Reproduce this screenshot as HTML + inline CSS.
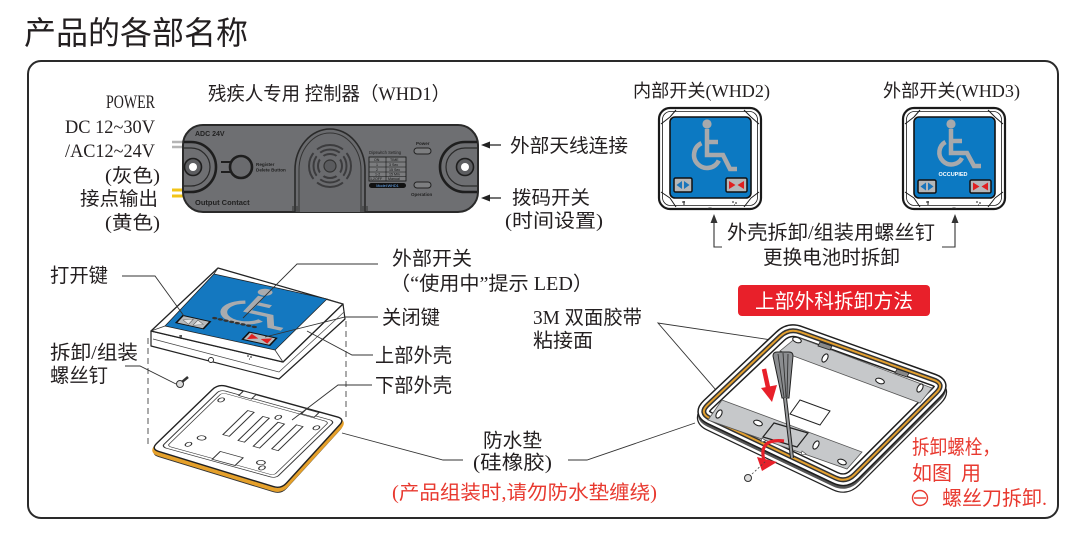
<!DOCTYPE html>
<html><head><meta charset="utf-8"><style>
html,body{margin:0;padding:0;background:#fff;}
svg{display:block;}
.t{font-family:"Liberation Serif","Noto Sans CJK SC",sans-serif;fill:#231f20;}
.s{font-family:"Liberation Sans",sans-serif;}
.r{fill:#e8392f;}
</style></head><body>
<svg width="1084" height="549" viewBox="0 0 1084 549" xmlns="http://www.w3.org/2000/svg">
<rect width="1084" height="549" fill="#fff"/>
<!-- Title -->
<text x="24" y="44" font-size="32" class="t" textLength="224" lengthAdjust="spacingAndGlyphs" style="font-family:'Noto Sans CJK SC',sans-serif">产品的各部名称</text>
<!-- Frame -->
<rect x="28" y="61" width="1030" height="457" rx="13" fill="none" stroke="#2a2a2a" stroke-width="2"/>

<!-- Left power labels -->
<g class="t" font-size="19">
<text x="106" y="108" textLength="49" lengthAdjust="spacingAndGlyphs">POWER</text>
<text x="65" y="133" textLength="90" lengthAdjust="spacingAndGlyphs">DC 12~30V</text>
<text x="65" y="157" textLength="90" lengthAdjust="spacingAndGlyphs">/AC12~24V</text>
<text x="105" y="182" textLength="55" lengthAdjust="spacingAndGlyphs">(灰色)</text>
<text x="80" y="205" textLength="78" lengthAdjust="spacingAndGlyphs">接点输出</text>
<text x="105" y="229" textLength="55" lengthAdjust="spacingAndGlyphs">(黄色)</text>
<text x="208" y="100" textLength="242" lengthAdjust="spacingAndGlyphs">残疾人专用 控制器（WHD1）</text>
<text x="510" y="152" textLength="118" lengthAdjust="spacingAndGlyphs">外部天线连接</text>
<text x="512" y="204" textLength="78" lengthAdjust="spacingAndGlyphs">拨码开关</text>
<text x="505" y="227" textLength="98" lengthAdjust="spacingAndGlyphs">(时间设置)</text>
</g>

<!-- Controller -->
<g>
<path d="M172,142 H186 M172,147 H186" stroke="#b4b4b4" stroke-width="2.6"/>
<path d="M172,190 H186 M172,196 H186" stroke="#f2c418" stroke-width="3"/>
<rect x="183" y="125" width="295" height="87" rx="20" fill="#6e6f72" stroke="#2a2a2a" stroke-width="2"/>
<path d="M184,142 H191 A25,25 0 0 1 191,192 H184" fill="none" stroke="#1e1e1e" stroke-width="2.6"/>
<path d="M184,148 H191 A19,19 0 0 1 191,186 H184" fill="none" stroke="#2a2a2a" stroke-width="1.2"/>
<circle cx="193" cy="167" r="8.5" fill="#5d5e61" stroke="#1e1e1e" stroke-width="1.6"/>
<circle cx="193" cy="167" r="4" fill="#fff"/>
<path d="M477,142 H465 A25,25 0 0 0 465,192 H477" fill="none" stroke="#1e1e1e" stroke-width="2.6"/>
<path d="M477,148 H465 A19,19 0 0 0 465,186 H477" fill="none" stroke="#2a2a2a" stroke-width="1.2"/>
<circle cx="465" cy="167" r="8.5" fill="#5d5e61" stroke="#1e1e1e" stroke-width="1.6"/>
<circle cx="465" cy="167" r="4" fill="#fff"/>
<text x="195" y="136" font-size="7" font-weight="bold" class="s" fill="#222">ADC 24V</text>
<text x="195" y="205" font-size="7.5" font-weight="bold" class="s" fill="#222">Output Contact</text>
<circle cx="241" cy="167" r="11" fill="#6a6b6e" stroke="#1e1e1e" stroke-width="2.6"/>
<path d="M221,162 H231 M221,172 H231" stroke="#1e1e1e" stroke-width="2"/>
<text x="256" y="166" font-size="4.6" font-weight="bold" class="s" fill="#222">Register</text>
<text x="256" y="171.5" font-size="4.6" font-weight="bold" class="s" fill="#222">Delete Button</text>
<path d="M295,212 V170 A35,41 0 0 1 365,170 V212" fill="#6a6b6e" stroke="#2a2a2a" stroke-width="1.6"/>
<path d="M299,212 V170 A31,37 0 0 1 361,170 V212" fill="none" stroke="#333" stroke-width="1"/>
<path d="M293,206 V212 M297,206 V212 M363,206 V212 M367,206 V212" stroke="#333" stroke-width="1"/>
<circle cx="330" cy="166" r="21" fill="none" stroke="#3c3c3e" stroke-width="2"/>
<circle cx="330" cy="166" r="16.5" fill="none" stroke="#3c3c3e" stroke-width="2"/>
<circle cx="330" cy="166" r="12" fill="none" stroke="#3c3c3e" stroke-width="2"/>
<path d="M312,148 L348,184 M348,148 L312,184" stroke="#6a6b6e" stroke-width="5"/>
<circle cx="330" cy="166" r="6" fill="#5a5b5e" stroke="#333" stroke-width="1.2"/>
<text x="369" y="154" font-size="4.2" class="s" fill="#222">Dipswitch Setting</text>
<rect x="369" y="157" width="37" height="24" fill="#7b7c7e" stroke="#111" stroke-width="0.8"/>
<path d="M369,162 H406 M369,167 H406 M369,172 H406 M369,176.5 H406 M386,157 V181" stroke="#111" stroke-width="0.6"/>
<g class="s" font-size="3.6" fill="#111">
<text x="374" y="161">ON</text><text x="390" y="161">TIME</text>
<text x="376" y="166">1</text><text x="389" y="166">3 Sec</text>
<text x="376" y="171">2</text><text x="389" y="171">15 Sec</text>
<text x="375" y="175.5">1-2</text><text x="389" y="175.5">15 Min</text>
<text x="370" y="180">1,2OFF</text><text x="388" y="180">Manual</text>
</g>
<rect x="369" y="183" width="37" height="5" rx="2.5" fill="#111"/>
<text x="387.5" y="187" font-size="3.8" class="s" fill="#6ab0ff" text-anchor="middle">Model:WHD1</text>
<text x="416" y="145" font-size="4.5" font-weight="bold" class="s" fill="#222">Power</text>
<rect x="414" y="148" width="17" height="6" rx="3" fill="#7d7e80" stroke="#222" stroke-width="1"/>
<rect x="414" y="182" width="17" height="6" rx="3" fill="#7d7e80" stroke="#222" stroke-width="1"/>
<text x="411" y="196" font-size="4.5" font-weight="bold" class="s" fill="#222">Operation</text>
</g>
<!-- controller arrows -->
<path d="M501,145 H488 M501,198 H488" stroke="#222" stroke-width="1.2"/>
<path d="M481,145 L490,141.5 L490,148.5 Z M481,198 L490,194.5 L490,201.5 Z" fill="#222"/>

<!-- WHD2 / WHD3 labels -->
<g class="t" font-size="18">
<text x="633" y="97" textLength="137" lengthAdjust="spacingAndGlyphs">内部开关(WHD2)</text>
<text x="883" y="97" textLength="137" lengthAdjust="spacingAndGlyphs">外部开关(WHD3)</text>
</g>
<g class="t" font-size="19.5">
<text x="727" y="239" textLength="208" lengthAdjust="spacingAndGlyphs">外壳拆卸/组装用螺丝钉</text>
<text x="763" y="264" textLength="137" lengthAdjust="spacingAndGlyphs">更换电池时拆卸</text>
</g>
<path d="M722,247 H714 V221 M942,247 H955 V221" fill="none" stroke="#333" stroke-width="1.1"/>
<path d="M714,214 L710.5,223 L717.5,223 Z M955,214 L951.5,223 L958.5,223 Z" fill="#333"/>

<!-- WHD device template -->
<g transform="translate(658,107)">
<rect x="1" y="1" width="102" height="101" rx="11" fill="#fff" stroke="#1a1a1a" stroke-width="2.2"/>
<rect x="4.5" y="4.5" width="95" height="94" rx="8" fill="none" stroke="#1a1a1a" stroke-width="0.8"/>
<path d="M12,10 L3,17 M12,10 L18,3 M93,10 L101,17 M93,10 L86,3 M12,91 L3,85 M12,91 L18,100 M93,91 L101,85 M93,91 L86,100" stroke="#1a1a1a" stroke-width="1"/>
<rect x="12" y="10" width="81" height="81" rx="5" fill="#0c79c2" stroke="#111" stroke-width="1.6"/>
<g fill="none" stroke="#a7a9ac" stroke-width="4.5">
<path d="M49,22 V48 H65 L72,62 H79"/>
<path d="M49,35 H60"/>
<path d="M43.5,36.2 A13,13 0 1 0 60.8,53.5"/>
</g>
<circle cx="49" cy="17" r="4.6" fill="#a7a9ac"/>
<rect x="16" y="71" width="18" height="14" rx="1.5" fill="#b5b7b9" stroke="#111" stroke-width="1.5"/>
<path d="M18.5,78 L24,74 L24,82 Z M31.5,78 L26,74 L26,82 Z" fill="#1a75bb"/>
<rect x="68" y="71" width="21" height="14" rx="1.5" fill="#b5b7b9" stroke="#111" stroke-width="1.5"/>
<path d="M71,74 L71,82 L77.5,78 Z M86,74 L86,82 L79.5,78 Z" fill="#e02020"/>
<path d="M24,95 h3 M26,94 v4 M74,95 h2 M77,96 h2 M76,98 h1" stroke="#222" stroke-width="1"/>
<path d="M49,102 q3,-2 6,0" fill="#222" stroke="#222" stroke-width="1"/>
</g>
<g transform="translate(902,107)">
<rect x="1" y="1" width="102" height="101" rx="11" fill="#fff" stroke="#1a1a1a" stroke-width="2.2"/>
<rect x="4.5" y="4.5" width="95" height="94" rx="8" fill="none" stroke="#1a1a1a" stroke-width="0.8"/>
<path d="M12,10 L3,17 M12,10 L18,3 M93,10 L101,17 M93,10 L86,3 M12,91 L3,85 M12,91 L18,100 M93,91 L101,85 M93,91 L86,100" stroke="#1a1a1a" stroke-width="1"/>
<rect x="12" y="10" width="81" height="81" rx="5" fill="#0c79c2" stroke="#111" stroke-width="1.6"/>
<g fill="none" stroke="#a7a9ac" stroke-width="4.5">
<path d="M49,22 V46 H65 L72,59 H79"/>
<path d="M49,34 H60"/>
<path d="M43.5,35 A12,12 0 1 0 60,51"/>
</g>
<circle cx="49" cy="17" r="4.6" fill="#a7a9ac"/>
<text x="51" y="69" font-size="5.5" font-weight="bold" class="s" fill="#fff" text-anchor="middle">OCCUPIED</text>
<rect x="16" y="73" width="18" height="13" rx="1.5" fill="#b5b7b9" stroke="#111" stroke-width="1.5"/>
<path d="M18.5,79.5 L24,75.5 L24,83.5 Z M31.5,79.5 L26,75.5 L26,83.5 Z" fill="#1a75bb"/>
<rect x="68" y="73" width="21" height="13" rx="1.5" fill="#b5b7b9" stroke="#111" stroke-width="1.5"/>
<path d="M71,75.5 L71,83.5 L77.5,79.5 Z M86,75.5 L86,83.5 L79.5,79.5 Z" fill="#e02020"/>
<path d="M24,95 h3 M26,94 v4 M74,95 h2 M77,96 h2 M76,98 h1" stroke="#222" stroke-width="1"/>
<path d="M49,102 q3,-2 6,0" fill="#222" stroke="#222" stroke-width="1"/>
</g>

<!-- Exploded view: dashed lines -->
<path d="M148,338 V447 M346,321 V421" stroke="#555" stroke-width="1" stroke-dasharray="6,4"/>

<!-- Lower shell -->
<g>
<path d="M225.7,386.1 L337.3,416.9 Q345,419 339.6,424.9 L286.4,483.1 Q281,489 273.4,486.6 L158.6,451.4 Q151,449 156.7,443.4 L212.3,389.6 Q218,384 225.7,386.1 Z" transform="translate(0,5)" fill="none" stroke="#333" stroke-width="1.2"/>
<path d="M156.7,443.4 Q151,449 158.6,451.4 L273.4,486.6 Q281,489 286.4,483.1 L339.6,424.9 Q345,419 337.3,416.9" transform="translate(0,2.6)" fill="none" stroke="#e5a02a" stroke-width="4"/>
<path d="M225.7,386.1 L337.3,416.9 Q345,419 339.6,424.9 L286.4,483.1 Q281,489 273.4,486.6 L158.6,451.4 Q151,449 156.7,443.4 L212.3,389.6 Q218,384 225.7,386.1 Z" fill="#fff" stroke="#222" stroke-width="1.4"/>
<g transform="matrix(1.27,0.35,-0.67,0.65,218,384)" fill="none" stroke="#333" stroke-width="0.9">
<rect x="5" y="6" width="90" height="88" rx="4"/>
<rect x="8" y="9" width="84" height="82" rx="3" stroke-width="0.6"/>
<rect x="35" y="22" width="5" height="37" fill="#fff"/>
<rect x="48" y="24" width="5" height="37" fill="#fff"/>
<rect x="61" y="26" width="5" height="37" fill="#fff"/>
<rect x="74" y="23" width="5" height="37" fill="#fff"/>
<rect x="20" y="0" width="10" height="7" fill="#fff"/>
<rect x="70" y="1" width="10" height="7" fill="#fff"/>
<rect x="44" y="80" width="18" height="12" fill="#fff"/>
<ellipse cx="12" cy="18" rx="2" ry="3"/>
<ellipse cx="88" cy="20" rx="2" ry="3"/>
<ellipse cx="20" cy="82" rx="2" ry="3"/>
<ellipse cx="80" cy="86" rx="2" ry="3"/>
<circle cx="24" cy="70" r="3"/>
<circle cx="76" cy="80" r="3"/>
<ellipse cx="58" cy="20" rx="2" ry="3"/>
</g>
</g>

<!-- Upper shell -->
<g>
<path d="M151,331 L151,346 L279,379 L345,319 L343,304 L283,362 Z" fill="#fff" stroke="#222" stroke-width="1.2" stroke-linejoin="round"/>
<path d="M153,339 L279,372 L344,312" fill="none" stroke="#444" stroke-width="0.7"/>
<path d="M218,268 L343,304 L283,362 L151,331 Z" fill="#fff" stroke="#222" stroke-width="1.3" stroke-linejoin="round"/>
<path d="M327,299 L343,304 M275,350 L283,362 M165,326 L151,331 M214,274 L218,268" stroke="#333" stroke-width="0.8"/>
<path d="M214,274 L327,299 L275,350 L165,326 Z" fill="#1478c0" stroke="#222" stroke-width="0.8" stroke-linejoin="round"/>
<g transform="matrix(1.13,0.25,-0.49,0.52,214,274)">
<g fill="none" stroke="#a9abae" stroke-width="5.5">
<path d="M50,19 V47 H70 L78,64 H88"/>
<path d="M50,32 H64"/>
<path d="M42.4,33.7 A18,18 0 1 0 66.3,57.6"/>
</g>
<circle cx="50" cy="11" r="6" fill="#a9abae"/>
<g fill="#333"><ellipse cx="31" cy="70" rx="2.2" ry="2"/><ellipse cx="36" cy="70" rx="2.2" ry="2"/><ellipse cx="41" cy="70" rx="2.2" ry="2"/><ellipse cx="46" cy="70" rx="2.2" ry="2"/><ellipse cx="51" cy="70" rx="2.2" ry="2"/><ellipse cx="56" cy="70" rx="2.2" ry="2"/><ellipse cx="61" cy="70" rx="2.2" ry="2"/><ellipse cx="66" cy="70" rx="2.2" ry="2"/></g>
<rect x="6" y="77" width="24" height="14" fill="#b8babc" stroke="#111" stroke-width="1.6"/>
<path d="M9,84 L16,79 L16,89 Z M27,84 L20,79 L20,89 Z" fill="#e8e8e8" stroke="#555" stroke-width="0.6"/>
<rect x="66" y="80" width="24" height="14" fill="#b8babc" stroke="#111" stroke-width="1.6"/>
<path d="M69,82 L69,92 L77,87 Z M87,82 L87,92 L79,87 Z" fill="#e02020"/>
</g>
<path d="M179,336 h3 M181,335 v4 M247,356 h2 M250,357 h2 M249,359 h1" stroke="#222" stroke-width="1"/>
<circle cx="211" cy="360" r="2.5" fill="#fff" stroke="#222" stroke-width="0.9"/>
</g>
<!-- screw -->
<circle cx="180" cy="384" r="3.5" fill="#ddd" stroke="#333" stroke-width="1"/>
<path d="M182,382 L188,377" stroke="#333" stroke-width="2.5"/>

<!-- leader lines bottom-left -->
<g fill="none" stroke="#333" stroke-width="0.9">
<path d="M122,276 H155 L184,316"/>
<path d="M125,366 H140 L176,384"/>
<path d="M378,264 H297 L243,318"/>
<path d="M378,317 H345 L265,337"/>
<path d="M373,355 H352 L307,331"/>
<path d="M372,385 H338 L292,420"/>
<path d="M463,460 H443 L342,433"/>
<path d="M568,460 H587 L695,423"/>
<path d="M785,342 L658,323 L722,397"/>
</g>

<!-- bottom labels -->
<g class="t" font-size="19.5">
<text x="50" y="282" textLength="58" lengthAdjust="spacingAndGlyphs">打开键</text>
<text x="50" y="359" textLength="88" lengthAdjust="spacingAndGlyphs">拆卸/组装</text>
<text x="50" y="382" textLength="58" lengthAdjust="spacingAndGlyphs">螺丝钉</text>
<text x="392" y="265" textLength="80" lengthAdjust="spacingAndGlyphs">外部开关</text>
<text x="390" y="290" textLength="203" lengthAdjust="spacingAndGlyphs">（“使用中”提示 LED）</text>
<text x="382" y="324" textLength="58" lengthAdjust="spacingAndGlyphs">关闭键</text>
<text x="375" y="362" textLength="77" lengthAdjust="spacingAndGlyphs">上部外壳</text>
<text x="375" y="392" textLength="77" lengthAdjust="spacingAndGlyphs">下部外壳</text>
<text x="483" y="447" textLength="59" lengthAdjust="spacingAndGlyphs">防水垫</text>
<text x="473" y="469" textLength="79" lengthAdjust="spacingAndGlyphs">(硅橡胶)</text>
<text x="533" y="324" textLength="109" lengthAdjust="spacingAndGlyphs">3M 双面胶带</text>
<text x="533" y="347" textLength="60" lengthAdjust="spacingAndGlyphs">粘接面</text>
<text x="392" y="499" textLength="265" lengthAdjust="spacingAndGlyphs" class="t r" style="fill:#e8392f">(产品组装时,请勿防水垫缠绕)</text>
</g>

<!-- Red banner -->
<rect x="738" y="285" width="192" height="31" rx="4" fill="#e8202a"/>
<text x="755" y="308" font-size="20" textLength="158" lengthAdjust="spacingAndGlyphs" class="t" style="fill:#fff">上部外科拆卸方法</text>

<!-- Right figure -->
<g>
<path d="M800.3,332.1 L933.7,379.9 Q945,384 936.5,392.5 L854.5,474.5 Q846,483 835.2,477.8 L709.8,418.2 Q699,413 707.7,404.8 L780.3,336.2 Q789,328 800.3,332.1 Z" transform="translate(0,6)" fill="none" stroke="#222" stroke-width="14"/>
<path d="M800.3,332.1 L933.7,379.9 Q945,384 936.5,392.5 L854.5,474.5 Q846,483 835.2,477.8 L709.8,418.2 Q699,413 707.7,404.8 L780.3,336.2 Q789,328 800.3,332.1 Z" transform="translate(0,6)" fill="none" stroke="#fff" stroke-width="11.5"/>
<path d="M800.3,332.1 L933.7,379.9 Q945,384 936.5,392.5 L854.5,474.5 Q846,483 835.2,477.8 L709.8,418.2 Q699,413 707.7,404.8 L780.3,336.2 Q789,328 800.3,332.1 Z" transform="translate(0,3)" fill="none" stroke="#555" stroke-width="12"/>
<path d="M800.3,332.1 L933.7,379.9 Q945,384 936.5,392.5 L854.5,474.5 Q846,483 835.2,477.8 L709.8,418.2 Q699,413 707.7,404.8 L780.3,336.2 Q789,328 800.3,332.1 Z" fill="#fff" stroke="#1e1e1e" stroke-width="13"/>
<path d="M800.3,332.1 L933.7,379.9 Q945,384 936.5,392.5 L854.5,474.5 Q846,483 835.2,477.8 L709.8,418.2 Q699,413 707.7,404.8 L780.3,336.2 Q789,328 800.3,332.1 Z" fill="none" stroke="#fff" stroke-width="10"/>
<path d="M800.3,332.1 L933.7,379.9 Q945,384 936.5,392.5 L854.5,474.5 Q846,483 835.2,477.8 L709.8,418.2 Q699,413 707.7,404.8 L780.3,336.2 Q789,328 800.3,332.1 Z" fill="none" stroke="#333" stroke-width="5"/>
<path d="M800.3,332.1 L933.7,379.9 Q945,384 936.5,392.5 L854.5,474.5 Q846,483 835.2,477.8 L709.8,418.2 Q699,413 707.7,404.8 L780.3,336.2 Q789,328 800.3,332.1 Z" fill="none" stroke="#e3a030" stroke-width="2"/>
<!-- strips -->
<path d="M797,337 L932,388 L920,403 L780,351 Z" fill="#c6c8ca" stroke="#555" stroke-width="0.8"/>
<path d="M722,400 L862,452 L847,469 L708,420 Z" fill="#c6c8ca" stroke="#555" stroke-width="0.8"/>
<g fill="#fff" stroke="#222" stroke-width="1.1">
<ellipse cx="797" cy="340" rx="4.5" ry="2.5" transform="rotate(20 797 340)"/>
<ellipse cx="825" cy="358" rx="4.5" ry="2.5" transform="rotate(-60 825 358)"/>
<ellipse cx="880" cy="381" rx="4.5" ry="2.5" transform="rotate(20 880 381)"/>
<ellipse cx="920" cy="388" rx="4.5" ry="2.5" transform="rotate(-60 920 388)"/>
<ellipse cx="719" cy="414" rx="4.5" ry="2.5" transform="rotate(-60 719 414)"/>
<ellipse cx="758" cy="423" rx="4.5" ry="2.5" transform="rotate(20 758 423)"/>
<ellipse cx="816" cy="445" rx="4.5" ry="2.5" transform="rotate(-60 816 445)"/>
<ellipse cx="842" cy="462" rx="4.5" ry="2.5" transform="rotate(20 842 462)"/>
</g>
<path d="M820,342 L832,346 L830,350 L818,346 Z M897,369 L909,373 L907,377 L895,373 Z" fill="#888" stroke="#222" stroke-width="0.8"/>
<path d="M800,400 L830,411 L820,425 L790,414 Z" fill="#fff" stroke="#222" stroke-width="1"/>
<path d="M774,423 L808,433 L797,447 L763,437 Z" fill="none" stroke="#222" stroke-width="1.2"/>
<path d="M762,438 l4,3 l-5,1 Z M802,451 l4,3 l-5,1 Z" fill="#fff" stroke="#444" stroke-width="0.6"/>
<!-- screwdriver -->
<path d="M773,356 Q773,352 777,352 L789,352 Q793,352 793,356 L789,398 L782,398 Z" fill="#8b8d90" stroke="#222" stroke-width="1"/>
<path d="M778,354 L784,397 M783,353 L786,397 M788,354 L787,397" stroke="#333" stroke-width="0.9"/>
<path d="M785,398 L792,458" stroke="#222" stroke-width="4"/>
<path d="M785,398 L792,458" stroke="#9a9c9e" stroke-width="2"/>
<!-- red arrows -->
<path d="M764,369 L769,392" stroke="#e8202a" stroke-width="4.5"/>
<path d="M761,388 L777,385 L772,402 Z" fill="#e8202a"/>
<path d="M784,441 Q758,438 764,461" fill="none" stroke="#e8202a" stroke-width="3.2"/>
<path d="M757,457 L777,462 L762,471 Z" fill="#e8202a"/>
<path d="M752,474 L766,461" stroke="#444" stroke-width="0.8" stroke-dasharray="2,2"/>
<circle cx="748" cy="478" r="3.5" fill="#ddd" stroke="#333" stroke-width="1"/>
</g>

<!-- Red right text -->
<g class="t" font-size="20" style="fill:#e8392f">
<text x="912" y="454" style="fill:#e8392f" textLength="88" lengthAdjust="spacingAndGlyphs">拆卸螺栓，</text>
<text x="912" y="480" style="fill:#e8392f" textLength="40" lengthAdjust="spacingAndGlyphs">如图</text>
<text x="961" y="480" style="fill:#e8392f">用</text>
<text x="942" y="505" style="fill:#e8392f" textLength="105" lengthAdjust="spacingAndGlyphs">螺丝刀拆卸.</text>
</g>
<circle cx="920" cy="498" r="7.5" fill="none" stroke="#e8392f" stroke-width="1.4"/>
<path d="M914,498 H926" stroke="#e8392f" stroke-width="1.4"/>
</svg>
</body></html>
